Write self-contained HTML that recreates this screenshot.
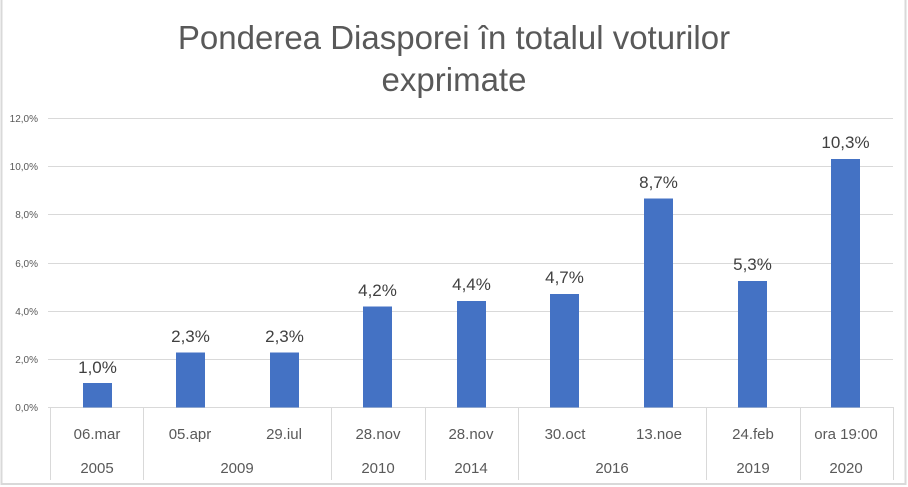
<!DOCTYPE html>
<html><head><meta charset="utf-8"><style>
html,body{margin:0;padding:0;background:#fff}
svg{display:block}
text{font-family:"Liberation Sans",sans-serif}
</style></head><body>
<svg width="908" height="487" viewBox="0 0 908 487" xmlns="http://www.w3.org/2000/svg">
<rect x="0" y="0" width="908" height="487" fill="#fff"/>
<rect x="1.5" y="-2" width="904" height="486" fill="none" stroke="#d9d9d9" stroke-width="2"/>
<text x="454" y="49" text-anchor="middle" font-size="33" fill="#595959">Ponderea Diasporei în totalul voturilor</text>
<text x="454" y="91" text-anchor="middle" font-size="33" fill="#595959">exprimate</text>
<g stroke="#d9d9d9" stroke-width="1">
<line x1="48" x2="893" y1="118.5" y2="118.5"/>
<line x1="48" x2="893" y1="166.5" y2="166.5"/>
<line x1="48" x2="893" y1="214.5" y2="214.5"/>
<line x1="48" x2="893" y1="263.5" y2="263.5"/>
<line x1="48" x2="893" y1="311.5" y2="311.5"/>
<line x1="48" x2="893" y1="359.5" y2="359.5"/>
<line x1="48" x2="893" y1="407.5" y2="407.5"/>
<line x1="50.5" x2="50.5" y1="407" y2="480"/>
<line x1="143.5" x2="143.5" y1="407" y2="480"/>
<line x1="331.5" x2="331.5" y1="407" y2="480"/>
<line x1="425.5" x2="425.5" y1="407" y2="480"/>
<line x1="518.5" x2="518.5" y1="407" y2="480"/>
<line x1="706.5" x2="706.5" y1="407" y2="480"/>
<line x1="800.5" x2="800.5" y1="407" y2="480"/>
<line x1="893.5" x2="893.5" y1="407" y2="480"/>
</g>
<g font-size="10" fill="#595959" text-anchor="end">
<text x="38" y="122">12,0%</text>
<text x="38" y="170">10,0%</text>
<text x="38" y="218">8,0%</text>
<text x="38" y="267">6,0%</text>
<text x="38" y="315">4,0%</text>
<text x="38" y="363">2,0%</text>
<text x="38" y="411">0,0%</text>
</g>
<g fill="#4472c4">
<rect x="83" y="383" width="29" height="24.5"/>
<rect x="176" y="352.5" width="29" height="55"/>
<rect x="270" y="352.5" width="29" height="55"/>
<rect x="363" y="306.5" width="29" height="101"/>
<rect x="457" y="301" width="29" height="106.5"/>
<rect x="550" y="294" width="29" height="113.5"/>
<rect x="644" y="198.5" width="29" height="209"/>
<rect x="738" y="281" width="29" height="126.5"/>
<rect x="831" y="159" width="29" height="248.5"/>
</g>
<g font-size="17" fill="#404040" text-anchor="middle">
<text x="97.5" y="373">1,0%</text>
<text x="190.5" y="342">2,3%</text>
<text x="284.5" y="342">2,3%</text>
<text x="377.5" y="296">4,2%</text>
<text x="471.5" y="290">4,4%</text>
<text x="564.5" y="283">4,7%</text>
<text x="658.5" y="188">8,7%</text>
<text x="752.5" y="270">5,3%</text>
<text x="845.5" y="148">10,3%</text>
</g>
<g font-size="15" fill="#595959" text-anchor="middle">
<text x="97" y="439">06.mar</text>
<text x="190" y="439">05.apr</text>
<text x="284" y="439">29.iul</text>
<text x="378" y="439">28.nov</text>
<text x="471" y="439">28.nov</text>
<text x="565" y="439">30.oct</text>
<text x="659" y="439">13.noe</text>
<text x="753" y="439">24.feb</text>
<text x="846" y="439">ora 19:00</text>
<text x="97" y="473">2005</text>
<text x="237" y="473">2009</text>
<text x="378" y="473">2010</text>
<text x="471" y="473">2014</text>
<text x="612" y="473">2016</text>
<text x="753" y="473">2019</text>
<text x="846" y="473">2020</text>
</g>
</svg>
</body></html>
